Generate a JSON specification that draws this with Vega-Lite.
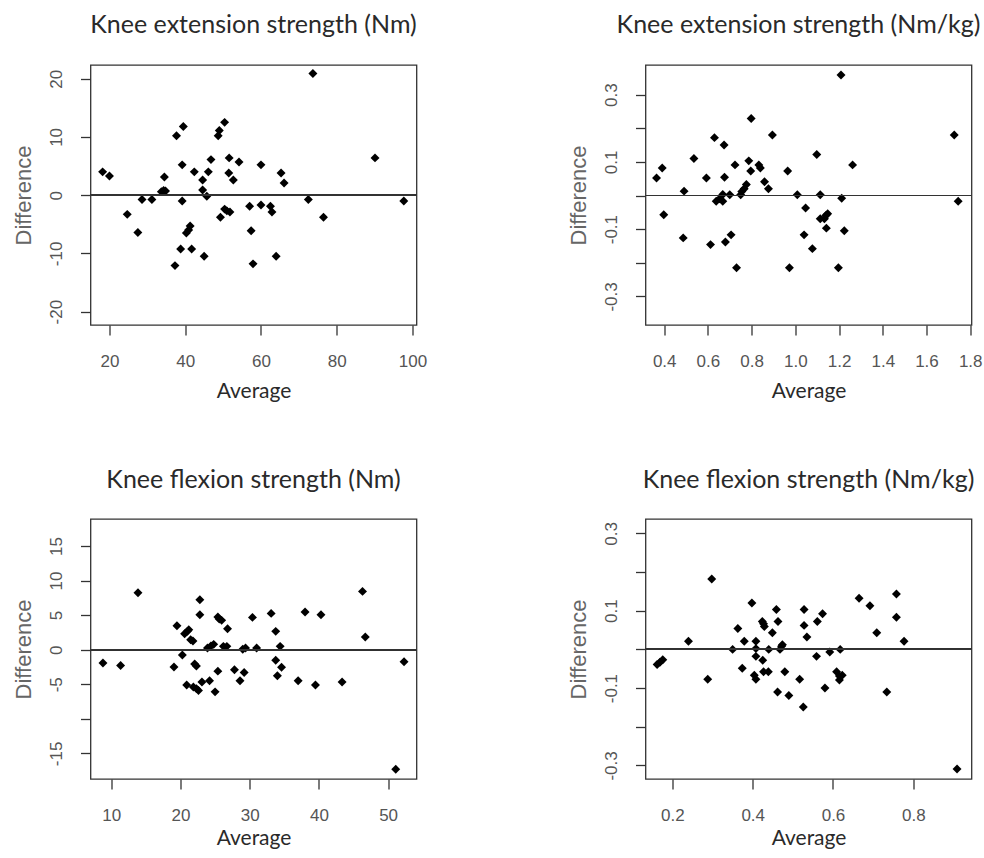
{
  "$schema": "https://vega.github.io/schema/vega-lite/v6.json",
  "background": "white",
  "padding": {"left": 10.5, "top": 12, "right": 0, "bottom": 0},
  "columns": 2,
  "spacing": {"row": 194, "column": 229},
  "bounds": "flush",
  "config": {
    "view": {"stroke": "#333", "strokeWidth": 1.3},
    "axis": {"grid": false, "domain": false, "tickColor": "#333", "tickWidth": 1.3, "tickSize": 10,
             "labelFont": "Liberation Sans", "labelFontSize": 17, "labelColor": "#555", "titleFontWeight": "normal"},
    "axisX": {"titleFont": "Lato", "titleFontSize": 21, "titleFontWeight": 400, "titleColor": "#2a2a2a", "labelPadding": 18},
    "axisY": {"titleFont": "Liberation Sans", "titleFontSize": 22, "titleColor": "#666", "labelAngle": -90,
              "labelAlign": "center", "labelBaseline": "bottom", "labelPadding": 15, "titlePadding": 12.5},
    "title": {"font": "Lato", "fontSize": 25, "fontWeight": 400, "color": "#2a2a2a", "anchor": "middle",
              "frame": "group", "baseline": "alphabetic"}
  },
  "datasets": {
    "ext_nm": [
      {"a":18.2,"d":4.0},{"a":20.0,"d":3.3},{"a":24.7,"d":-3.3},{"a":27.5,"d":-6.4},{"a":28.6,"d":-0.75},
      {"a":31.2,"d":-0.75},{"a":33.7,"d":0.6},{"a":34.3,"d":0.8},{"a":34.8,"d":0.7},{"a":34.5,"d":3.1},
      {"a":37.7,"d":10.2},{"a":37.3,"d":-12.1},{"a":38.8,"d":-9.25},{"a":39.2,"d":5.2},{"a":39.2,"d":-1.0},
      {"a":39.5,"d":11.8},{"a":40.3,"d":-6.5},{"a":40.9,"d":-6.0},{"a":41.3,"d":-5.3},{"a":41.7,"d":-9.25},
      {"a":42.4,"d":4.0},{"a":44.6,"d":2.6},{"a":44.6,"d":0.9},{"a":45.0,"d":-10.5},{"a":45.7,"d":-0.2},
      {"a":46.1,"d":4.0},{"a":46.8,"d":6.1},{"a":48.7,"d":10.2},{"a":49.0,"d":11.1},{"a":49.3,"d":-3.8},
      {"a":50.4,"d":12.5},{"a":50.4,"d":-2.4},{"a":51.0,"d":-2.7},{"a":51.6,"d":6.4},{"a":51.5,"d":3.8},
      {"a":51.8,"d":-2.9},{"a":52.7,"d":2.6},{"a":54.2,"d":5.7},{"a":57.0,"d":-1.9},{"a":57.4,"d":-6.1},
      {"a":57.9,"d":-11.8},{"a":60.0,"d":5.2},{"a":60.0,"d":-1.7},{"a":62.5,"d":-1.9},{"a":62.9,"d":-2.9},
      {"a":64.0,"d":-10.5},{"a":65.3,"d":3.8},{"a":66.1,"d":2.1},{"a":72.5,"d":-0.75},{"a":73.7,"d":20.9},
      {"a":76.5,"d":-3.8},{"a":90.1,"d":6.4},{"a":97.7,"d":-1.0}
    ],
    "ext_kg": [
      {"a":0.365,"d":0.052},{"a":0.391,"d":0.082},{"a":0.398,"d":-0.057},{"a":0.487,"d":-0.126},{"a":0.491,"d":0.013},
      {"a":0.536,"d":0.11},{"a":0.593,"d":0.052},{"a":0.612,"d":-0.146},{"a":0.63,"d":0.172},{"a":0.674,"d":0.15},
      {"a":0.676,"d":0.054},{"a":0.638,"d":-0.017},{"a":0.653,"d":-0.01},{"a":0.668,"d":0.003},{"a":0.668,"d":-0.017},
      {"a":0.70,"d":0.002},{"a":0.68,"d":-0.138},{"a":0.706,"d":-0.117},{"a":0.724,"d":0.091},{"a":0.731,"d":-0.215},
      {"a":0.75,"d":0.002},{"a":0.755,"d":0.012},{"a":0.766,"d":0.02},{"a":0.776,"d":0.033},{"a":0.787,"d":0.103},
      {"a":0.796,"d":0.073},{"a":0.798,"d":0.229},{"a":0.833,"d":0.091},{"a":0.84,"d":0.082},{"a":0.859,"d":0.041},
      {"a":0.877,"d":0.02},{"a":0.895,"d":0.18},{"a":0.965,"d":0.073},{"a":0.973,"d":-0.215},{"a":1.009,"d":0.002},
      {"a":1.047,"d":-0.037},{"a":1.04,"d":-0.117},{"a":1.078,"d":-0.158},{"a":1.098,"d":0.122},{"a":1.114,"d":0.002},
      {"a":1.114,"d":-0.069},{"a":1.133,"d":-0.069},{"a":1.14,"d":-0.059},{"a":1.148,"d":-0.054},{"a":1.142,"d":-0.097},
      {"a":1.197,"d":-0.215},{"a":1.209,"d":0.358},{"a":1.212,"d":-0.008},{"a":1.224,"d":-0.105},{"a":1.262,"d":0.091},
      {"a":1.727,"d":0.18},{"a":1.745,"d":-0.017}
    ],
    "flex_nm": [
      {"a":8.8,"d":-1.93},{"a":11.35,"d":-2.3},{"a":13.86,"d":8.23},{"a":19.06,"d":-2.5},{"a":19.49,"d":3.47},
      {"a":20.27,"d":-0.77},{"a":20.6,"d":2.3},{"a":21.0,"d":2.65},{"a":21.2,"d":2.9},{"a":21.47,"d":1.44},
      {"a":21.8,"d":1.25},{"a":20.9,"d":-5.1},{"a":22.05,"d":-2.07},{"a":22.3,"d":-2.36},{"a":21.86,"d":-5.4},
      {"a":22.3,"d":-5.63},{"a":22.6,"d":-5.9},{"a":22.8,"d":7.22},{"a":22.8,"d":5.06},{"a":23.1,"d":-4.67},
      {"a":23.9,"d":0.24},{"a":24.4,"d":0.53},{"a":24.8,"d":0.77},{"a":24.2,"d":-4.5},{"a":25.0,"d":-6.1},
      {"a":25.4,"d":-3.1},{"a":25.4,"d":4.72},{"a":25.6,"d":4.43},{"a":25.95,"d":4.24},{"a":26.2,"d":0.48},
      {"a":26.7,"d":0.48},{"a":26.8,"d":3.03},{"a":27.8,"d":-2.9},{"a":28.6,"d":-4.5},{"a":29.0,"d":0.05},
      {"a":29.4,"d":0.24},{"a":29.2,"d":-3.3},{"a":30.4,"d":4.67},{"a":31.0,"d":0.24},{"a":33.1,"d":5.25},
      {"a":33.76,"d":2.65},{"a":33.76,"d":-1.54},{"a":34.0,"d":-3.76},{"a":34.4,"d":0.48},{"a":34.6,"d":-2.55},
      {"a":37.0,"d":-4.5},{"a":38.0,"d":5.44},{"a":39.5,"d":-5.1},{"a":40.3,"d":5.06},{"a":43.35,"d":-4.67},
      {"a":46.3,"d":8.43},{"a":46.7,"d":1.83},{"a":51.1,"d":-17.3},{"a":52.3,"d":-1.73}
    ],
    "flex_kg": [
      {"a":0.162,"d":-0.039},{"a":0.169,"d":-0.033},{"a":0.176,"d":-0.027},{"a":0.24,"d":0.021},{"a":0.288,"d":-0.077},
      {"a":0.298,"d":0.182},{"a":0.35,"d":0.0},{"a":0.363,"d":0.054},{"a":0.374,"d":-0.049},{"a":0.379,"d":0.021},
      {"a":0.398,"d":0.12},{"a":0.408,"d":0.021},{"a":0.408,"d":0.002},{"a":0.408,"d":-0.018},{"a":0.404,"d":-0.067},
      {"a":0.408,"d":-0.077},{"a":0.424,"d":0.072},{"a":0.427,"d":0.066},{"a":0.429,"d":0.059},{"a":0.425,"d":-0.028},
      {"a":0.427,"d":-0.058},{"a":0.439,"d":-0.058},{"a":0.44,"d":0.0},{"a":0.449,"d":0.043},{"a":0.459,"d":0.103},
      {"a":0.463,"d":0.072},{"a":0.462,"d":-0.11},{"a":0.468,"d":0.0},{"a":0.472,"d":0.008},{"a":0.474,"d":0.012},
      {"a":0.48,"d":-0.058},{"a":0.49,"d":-0.119},{"a":0.517,"d":-0.077},{"a":0.526,"d":-0.149},{"a":0.528,"d":0.103},
      {"a":0.528,"d":0.062},{"a":0.535,"d":0.032},{"a":0.559,"d":-0.018},{"a":0.561,"d":0.072},{"a":0.574,"d":0.092},
      {"a":0.58,"d":-0.1},{"a":0.592,"d":-0.007},{"a":0.609,"d":-0.058},{"a":0.616,"d":-0.069},{"a":0.623,"d":-0.067},
      {"a":0.616,"d":-0.079},{"a":0.618,"d":0.0},{"a":0.665,"d":0.132},{"a":0.692,"d":0.113},{"a":0.709,"d":0.043},
      {"a":0.734,"d":-0.11},{"a":0.758,"d":0.143},{"a":0.758,"d":0.083},{"a":0.777,"d":0.021},{"a":0.909,"d":-0.309}
    ]
  },
  "concat": [
    {
      "title": {"text": "Knee extension strength (Nm)", "offset": 27},
      "width": 326, "height": 260,
      "data": {"name": "ext_nm"},
      "layer": [
        {"mark": {"type": "point", "shape": "diamond", "filled": true, "color": "#000", "size": 80, "opacity": 1},
         "encoding": {
           "x": {"field": "a", "type": "quantitative", "scale": {"domain": [15, 101.05], "nice": false, "zero": false},
                 "axis": {"values": [20, 40, 60, 80, 100], "title": "Average", "titlePadding": 11}},
           "y": {"field": "d", "type": "quantitative", "scale": {"domain": [-22.3, 22.35], "nice": false, "zero": false},
                 "axis": {"values": [-20, -10, 0, 10, 20], "title": "Difference", "labelExpr": "replace(datum.label, '\u2212', '-')"}}
         }},
        {"mark": {"type": "rule", "color": "#333", "strokeWidth": 1.2}, "encoding": {"y": {"datum": 0}}}
      ]
    },
    {
      "title": {"text": "Knee extension strength (Nm/kg)", "offset": 27, "dx": -10},
      "width": 326, "height": 260,
      "data": {"name": "ext_kg"},
      "layer": [
        {"mark": {"type": "point", "shape": "diamond", "filled": true, "color": "#000", "size": 80, "opacity": 1},
         "encoding": {
           "x": {"field": "a", "type": "quantitative", "scale": {"domain": [0.3145, 1.806], "nice": false, "zero": false},
                 "axis": {"values": [0.4, 0.6, 0.8, 1.0, 1.2, 1.4, 1.6, 1.8], "format": ".1f", "title": "Average", "titlePadding": 11}},
           "y": {"field": "d", "type": "quantitative", "scale": {"domain": [-0.385, 0.388], "nice": false, "zero": false},
                 "axis": {"values": [-0.3, -0.2, -0.1, 0, 0.1, 0.2, 0.3], "title": "Difference",
                          "labelExpr": "(abs(datum.value) > 0.15 && abs(datum.value) < 0.25) || abs(datum.value) < 0.05 ? '' : replace(format(datum.value, '.1f'), '\u2212', '-')"}}
         }},
        {"mark": {"type": "rule", "color": "#333", "strokeWidth": 1.2}, "encoding": {"y": {"datum": 0}}}
      ]
    },
    {
      "title": {"text": "Knee flexion strength (Nm)", "offset": 26},
      "width": 326, "height": 260,
      "data": {"name": "flex_nm"},
      "layer": [
        {"mark": {"type": "point", "shape": "diamond", "filled": true, "color": "#000", "size": 80, "opacity": 1},
         "encoding": {
           "x": {"field": "a", "type": "quantitative", "scale": {"domain": [7.0, 54.1], "nice": false, "zero": false},
                 "axis": {"values": [10, 20, 30, 40, 50], "title": "Average", "titlePadding": 4}},
           "y": {"field": "d", "type": "quantitative", "scale": {"domain": [-18.7, 18.9], "nice": false, "zero": false},
                 "axis": {"values": [-15, -10, -5, 0, 5, 10, 15], "title": "Difference",
                          "labelExpr": "datum.value == -10 ? '' : replace(datum.label, '\u2212', '-')"}}
         }},
        {"mark": {"type": "rule", "color": "#333", "strokeWidth": 1.2}, "encoding": {"y": {"datum": 0}}}
      ]
    },
    {
      "title": {"text": "Knee flexion strength (Nm/kg)", "offset": 26},
      "width": 326, "height": 260,
      "data": {"name": "flex_kg"},
      "layer": [
        {"mark": {"type": "point", "shape": "diamond", "filled": true, "color": "#000", "size": 80, "opacity": 1},
         "encoding": {
           "x": {"field": "a", "type": "quantitative", "scale": {"domain": [0.133, 0.945], "nice": false, "zero": false},
                 "axis": {"values": [0.2, 0.4, 0.6, 0.8], "format": ".1f", "title": "Average", "titlePadding": 4}},
           "y": {"field": "d", "type": "quantitative", "scale": {"domain": [-0.335, 0.337], "nice": false, "zero": false},
                 "axis": {"values": [-0.3, -0.2, -0.1, 0, 0.1, 0.2, 0.3], "title": "Difference",
                          "labelExpr": "(abs(datum.value) > 0.15 && abs(datum.value) < 0.25) || abs(datum.value) < 0.05 ? '' : replace(format(datum.value, '.1f'), '\u2212', '-')"}}
         }},
        {"mark": {"type": "rule", "color": "#333", "strokeWidth": 1.2}, "encoding": {"y": {"datum": 0}}}
      ]
    }
  ]
}
